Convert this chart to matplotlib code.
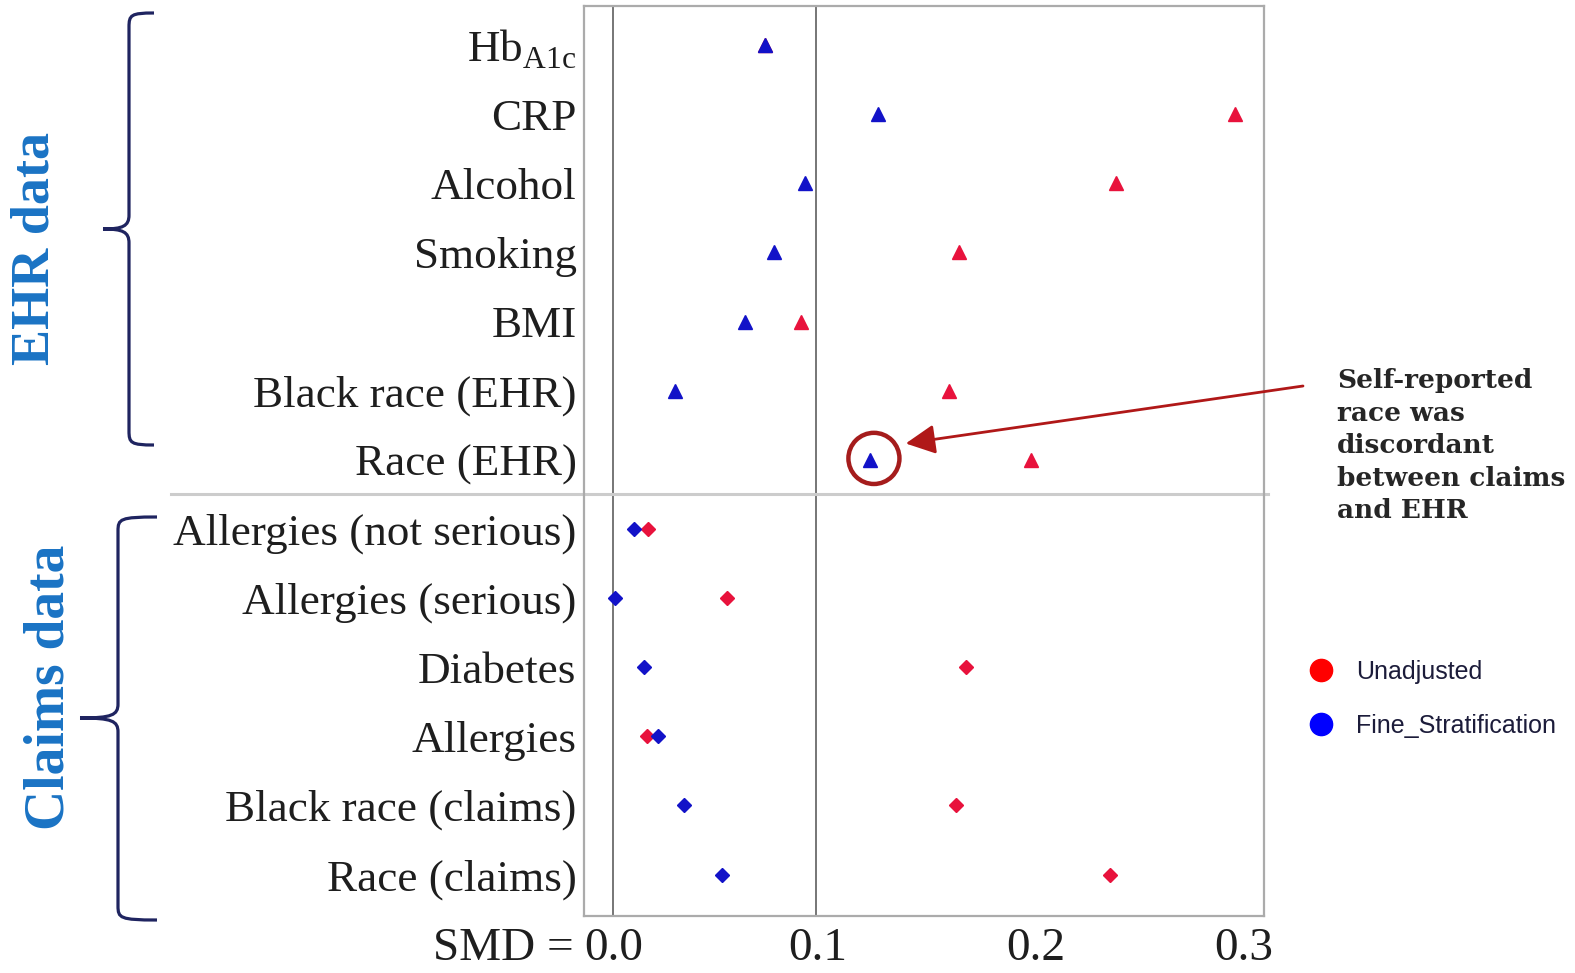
"""Covariate balance plot: SMD before/after fine stratification, EHR vs claims covariates."""

import matplotlib
matplotlib.use('Agg')
import matplotlib.pyplot as plt
from matplotlib.lines import Line2D
from matplotlib.patches import Ellipse, PathPatch
from matplotlib.path import Path
from matplotlib.transforms import ScaledTranslation

plt.rcParams['mathtext.fontset'] = 'custom'
plt.rcParams['mathtext.rm'] = 'Liberation Serif'

# rows from top to bottom; first 7 come from EHR, last 6 from claims
covariates = [r'Hb$_{\mathrm{A1c}}$', 'CRP', 'Alcohol', 'Smoking', 'BMI',
              'Black race (EHR)', 'Race (EHR)',
              'Allergies (not serious)', 'Allergies (serious)', 'Diabetes',
              'Allergies', 'Black race (claims)', 'Race (claims)']
unadjusted = [0.0748, 0.3069, 0.2482, 0.1704, 0.0926, 0.1656, 0.2060,
              0.0171, 0.0559, 0.1743, 0.0165, 0.1689, 0.2450]
fine_strat = [0.0748, 0.1305, 0.0948, 0.0791, 0.0650, 0.0302, 0.1265,
              0.0100, 0.0008, 0.0152, 0.0221, 0.0348, 0.0535]
n_ehr = 7
xticks = [0.0, 0.1, 0.2, 0.3]
xtick_labels = ['0.0', '0.1', '0.2', '0.3']
series_labels = ['Unadjusted', 'Fine_Stratification']

RED = '#E8123C'
BLUE = '#1212C8'
NAVY = '#1F2460'
W, H = 1575, 973


def brace(x_end, x_spine, x_tip, y_top, y_mid, y_bot, r=14):
    """Left-pointing curly brace in figure pixels (y measured from top)."""
    pts = [
        (x_end, y_top),
        (x_spine + 2, y_top), (x_spine, y_top + 2), (x_spine, y_top + r),
        (x_spine, y_mid - r),
        (x_spine, y_mid - 3), (x_spine - 6, y_mid), (x_tip, y_mid),
        (x_spine - 6, y_mid), (x_spine, y_mid + 3), (x_spine, y_mid + r),
        (x_spine, y_bot - r),
        (x_spine, y_bot - 2), (x_spine + 2, y_bot), (x_end, y_bot),
    ]
    codes = [Path.MOVETO,
             Path.CURVE4, Path.CURVE4, Path.CURVE4,
             Path.LINETO,
             Path.CURVE4, Path.CURVE4, Path.CURVE4,
             Path.CURVE4, Path.CURVE4, Path.CURVE4,
             Path.LINETO,
             Path.CURVE4, Path.CURVE4, Path.CURVE4]
    verts = [(x / W, 1 - y / H) for x, y in pts]
    return Path(verts, codes)


fig = plt.figure(figsize=(W / 100, H / 100), dpi=100)
ax = fig.add_axes([583.5 / W, 1 - 916 / H, (1264 - 583.5) / W, (916 - 6) / H])

rows = list(range(len(covariates)))

# reference lines
ax.axvline(0.0, color='#6b6b6b', lw=1.3, zorder=1)
ax.axvline(0.1, color='#6b6b6b', lw=1.3, zorder=1)

# EHR covariates: triangles, claims: small diamonds
ax.plot(unadjusted[:n_ehr], rows[:n_ehr], ls='none', marker='^', ms=10.5, color=RED, zorder=3)
ax.plot(fine_strat[:n_ehr], rows[:n_ehr], ls='none', marker='^', ms=10.5, color=BLUE, zorder=4)
ax.plot(unadjusted[n_ehr:], rows[n_ehr:], ls='none', marker='D', ms=7.5, color=RED, zorder=3)
ax.plot(fine_strat[n_ehr:], rows[n_ehr:], ls='none', marker='D', ms=7.5, color=BLUE, zorder=4)

# separator between EHR and claims blocks
ax.plot([-0.606, 1.006], [n_ehr - 0.5, n_ehr - 0.5], transform=ax.get_yaxis_transform(),
        clip_on=False, color='#CCCCCC', lw=2.2, zorder=2)

ax.set_xlim(-0.0148, 0.3212)
ax.set_ylim(12.6, -0.565)

ax.set_yticks(rows)
ax.set_yticklabels(covariates, fontsize=32.5, family='Liberation Serif', color='#1e1e1e')
ax.set_xticks(xticks)
ax.set_xticklabels(xtick_labels, fontsize=34, family='Liberation Serif', color='#1e1e1e')
ax.tick_params(axis='y', length=0, pad=5)
ax.tick_params(axis='x', length=0, pad=8)

# the slide's tick labels sit a little right of the true positions
for lab, dx in zip(ax.get_xticklabels(), [0, 2, 17, 23]):
    lab.set_transform(lab.get_transform() + ScaledTranslation(dx / 100, 0, fig.dpi_scale_trans))

ax.annotate('SMD = ', xy=(0, 0), xycoords=('data', 'axes fraction'),
            xytext=(-20, -8), textcoords='offset points', ha='right', va='top',
            fontsize=34, family='Liberation Serif', color='#1e1e1e')

for s in ax.spines.values():
    s.set_color('#ABABAB')
    s.set_linewidth(1.6)

# highlight for Race (EHR) after stratification
race_ehr = covariates.index('Race (EHR)')
ax.add_patch(Ellipse((fine_strat[race_ehr] + 0.0021, race_ehr - 0.02), width=0.0252, height=0.74,
                     fill=False, ec='#A51C1C', lw=3.2, zorder=5))
ax.annotate('', xy=(0.1443, 5.764), xycoords='data',
            xytext=(1303, H - 386), textcoords='figure pixels',
            arrowprops=dict(arrowstyle='-|>,head_length=0.9,head_width=0.45', color='#B01818',
                            lw=2, mutation_scale=20, shrinkA=0, shrinkB=0),
            annotation_clip=False)
fig.text(1337 / W, 1 - 368 / H,
         'Self-reported\nrace was\ndiscordant\nbetween claims\nand EHR',
         ha='left', va='top', family='DejaVu Serif', weight='bold', size=19,
         linespacing=1.38, color='#262626')

# braces and group labels
fig.add_artist(PathPatch(brace(154, 129, 103, 13, 229, 445), fill=False, ec=NAVY, lw=2.3))
fig.add_artist(PathPatch(brace(157, 118, 80, 517, 718, 920), fill=False, ec=NAVY, lw=2.3))
fig.text(36 / W, 1 - 248 / H, 'EHR data', rotation=90, ha='center', va='center',
         color='#1A73C4', family='Liberation Serif', weight='bold', size=39)
fig.text(50 / W, 1 - 687 / H, 'Claims data', rotation=90, ha='center', va='center',
         color='#1A73C4', family='Liberation Serif', weight='bold', size=40)

handles = [Line2D([], [], ls='none', marker='o', ms=16, color='#FF0000'),
           Line2D([], [], ls='none', marker='o', ms=16, color='#0000FF')]
fig.legend(handles, series_labels, loc='upper left', bbox_to_anchor=(1296 / W, 1 - 647 / H),
           frameon=False, borderpad=0, handlelength=1, handletextpad=0.92, labelspacing=1.2,
           prop=dict(family='Liberation Sans', size=18), labelcolor='#1c1c3a')

fig.savefig('out.png', dpi=100)
